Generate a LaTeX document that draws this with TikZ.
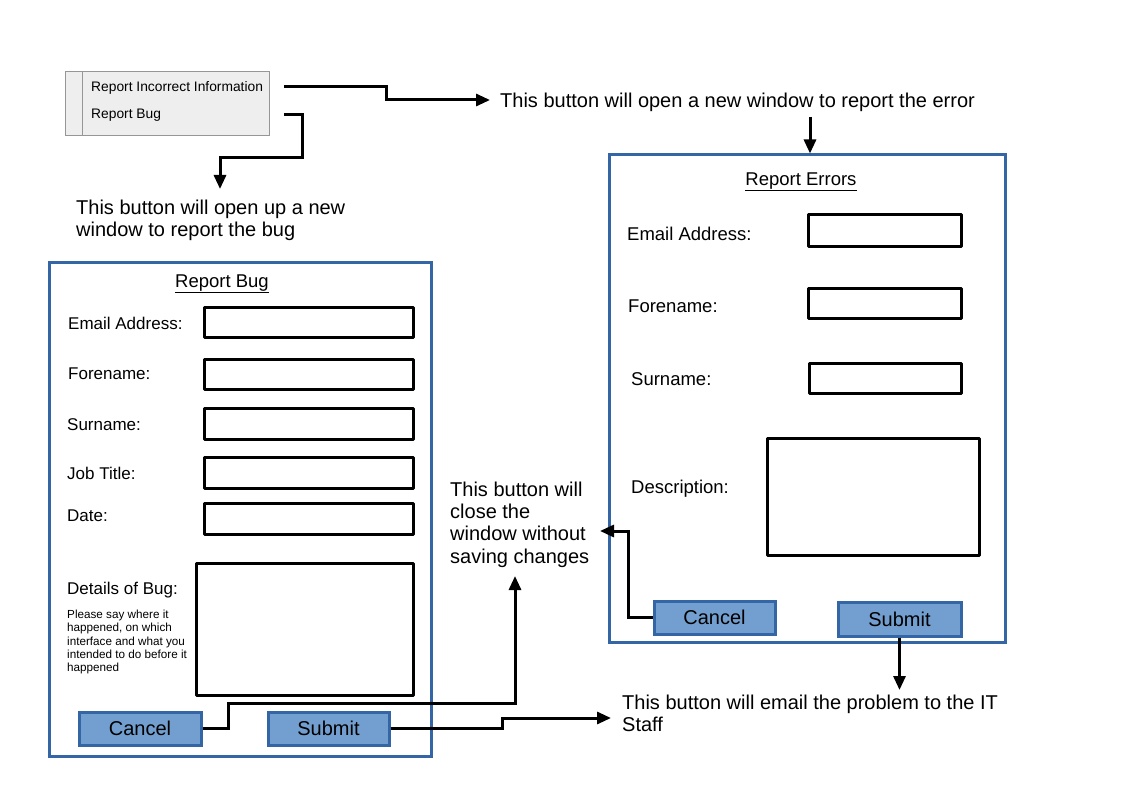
\documentclass[tikz,border=0pt]{standalone}
\usepackage{fontspec}
\setmainfont{Liberation Sans}
\usetikzlibrary{arrows.meta}
\definecolor{formblue}{RGB}{52,101,164}
\definecolor{btnfill}{RGB}{114,159,207}
\definecolor{menufill}{RGB}{238,238,238}
\definecolor{menuline}{RGB}{150,150,150}
\begin{document}
\begin{tikzpicture}[x=1pt,y=-1pt,
 conn/.style={line width=3pt, line join=miter},
 arr/.style={conn,-{Triangle[length=14pt,width=12pt]}},
 field/.style={draw, line width=3pt, line join=round, inner sep=0},
 form/.style={draw=formblue, line width=3pt, inner sep=0},
 btn/.style={draw=formblue, fill=btnfill, line width=3pt, inner sep=0, font=\fontsize{20}{24}\selectfont},
 lab/.style={anchor=west, inner sep=0, font=\fontsize{17}{20}\selectfont},
 labr/.style={anchor=west, inner sep=0, font=\fontsize{18.5}{22}\selectfont},
 note/.style={anchor=west, inner sep=0, align=left, font=\fontsize{20}{22.3}\selectfont},
 formtitle/.style={inner sep=0, font=\fontsize{18.5}{22}\selectfont},
 menuitem/.style={anchor=west, inner sep=0, font=\fontsize{13.8}{16}\selectfont},
 small/.style={anchor=north west, inner sep=0, align=left, font=\fontsize{11.7}{13.3}\selectfont}]

\path[use as bounding box] (0,0) rectangle (1123,794);
\fill[white] (0,0) rectangle (1123,794);

% menu
\node[draw=menuline, fill=menufill, line width=1pt, minimum width=204pt, minimum height=64pt, inner sep=0] (menu) at (167,104) {};
\draw[menuline, line width=1pt] ([xshift=18pt]menu.north west) -- ([xshift=18pt]menu.south west);
\node[menuitem] (mi1) at (91,87.5) {Report Incorrect Information};
\node[menuitem] (mi2) at (91,115.5) {Report Bug};

% notes
\node[note] (note1) at (500,102) {This button will open a new window to report the error};
\node[note] (note2) at (76,220) {This button will open up a new\\window to report the bug};
\node[note] (note3) at (450,524.5) {This button will\\close the\\window without\\saving changes};
\node[note] (note4) at (622,713) {This button will email the problem to the IT\\Staff};

% menu arrows
\coordinate (a1s) at (284,87);
\coordinate (a2s) at (284,115);
\draw[arr] (a1s) -- (386,87) -- (386,100) -- (490,100);
\draw[arr] (a2s) -- (302,115) -- (302,158) -- (220,158) -- (220,189);

% right form
\node[form, minimum width=396pt, minimum height=487pt] (errform) at (807,398.5) {};
\node[formtitle] (errtitle) at (801,182) {\underline{Report Errors}};
\draw[arr] (810,117) -- (errform.north -| 810,0);
\node[labr] (el1) at (627,233.5) {Email Address:};
\node[labr] (el2) at (628,306.5) {Forename:};
\node[labr] (el3) at (631,379.5) {Surname:};
\node[labr] (el4) at (631,488.5) {Description:};
\node[field, minimum width=153pt, minimum height=31pt] (ef1) at (884.5,230.5) {};
\node[field, minimum width=153pt, minimum height=30pt] (ef2) at (884.5,303) {};
\node[field, minimum width=152pt, minimum height=30pt] (ef3) at (885,378) {};
\node[field, minimum width=212pt, minimum height=117pt] (ef4) at (873,496.5) {};
\node[btn, minimum width=121pt, minimum height=33pt] (ecancel) at (714.5,617.5) {Cancel};
\node[btn, minimum width=123pt, minimum height=34pt] (esubmit) at (899.5,619) {Submit};
\draw[arr] (ecancel.west) -- (628,617.5) -- (628,531) -- (600,531);
\draw[arr] (esubmit.south) -- (899.5,690);

% left form
\node[form, minimum width=382pt, minimum height=494pt] (bugform) at (240,509) {};
\node[formtitle] (bugtitle) at (222,284) {\underline{Report Bug}};
\node[lab] (bl1) at (68,323.5) {Email Address:};
\node[lab] (bl2) at (68,373.5) {Forename:};
\node[lab] (bl3) at (67,424.5) {Surname:};
\node[lab] (bl4) at (67,473.5) {Job Title:};
\node[lab] (bl5) at (67,515.5) {Date:};
\node[lab] (bl6) at (67,590.5) {Details of Bug:};
\node[small] (bhint) at (67,610) {Please say where it\\happened, on which\\interface and what you\\intended to do before it\\happened};
\node[field, minimum width=209pt, minimum height=30pt] (bf1) at (308.5,322) {};
\node[field, minimum width=209pt, minimum height=30pt] (bf2) at (308.5,374) {};
\node[field, minimum width=209pt, minimum height=31pt] (bf3) at (308.5,423.5) {};
\node[field, minimum width=209pt, minimum height=31pt] (bf4) at (308.5,472.5) {};
\node[field, minimum width=209pt, minimum height=31pt] (bf5) at (308.5,518.5) {};
\node[field, minimum width=217pt, minimum height=132pt] (bf6) at (304.5,629) {};
\node[btn, minimum width=122pt, minimum height=33pt] (bcancel) at (140,728.5) {Cancel};
\node[btn, minimum width=121pt, minimum height=33pt] (bsubmit) at (328.5,728.5) {Submit};
\draw[arr] (bcancel.east) -- (228,728.5) -- (228,703) -- (515,703) -- (515,576);
\draw[arr] (bsubmit.east) -- (502,728.5) -- (502,718) -- (611,718);
\end{tikzpicture}
\end{document}
